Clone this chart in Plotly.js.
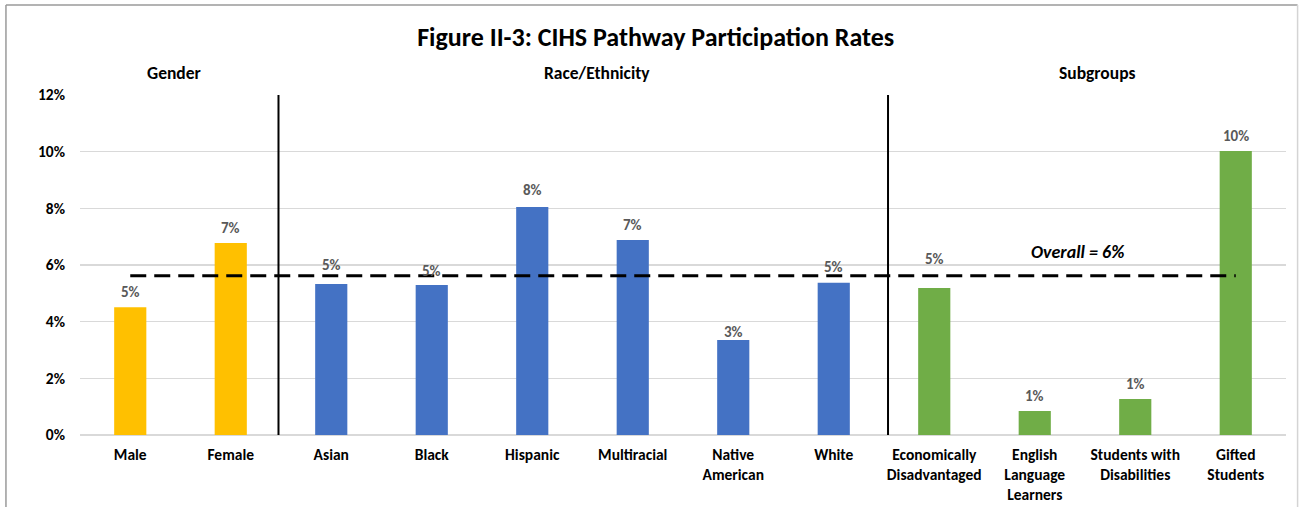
<!DOCTYPE html>
<html>
<head>
<meta charset="utf-8">
<script src="https://cdn.plot.ly/plotly-3.0.1.min.js"></script>
<style>html,body{margin:0;padding:0;background:#fff;}#chart{width:1301px;height:507px;}</style>
</head>
<body>
<div id="chart"></div>
<script>
const categories = ["Male","Female","Asian","Black","Hispanic","Multiracial","Native<br>American","White","Economically<br>Disadvantaged","English<br>Language<br>Learners","Students with<br>Disabilities","Gifted<br>Students"];
const rates = [0.0451,0.0678,0.0533,0.0529,0.0805,0.0688,0.0335,0.0537,0.0519,0.0085,0.0127,0.1002];
const groups = ["Gender","Gender","Race","Race","Race","Race","Race","Race","Sub","Sub","Sub","Sub"];
const groupColors = {Gender:"#FFC000", Race:"#4472C4", Sub:"#70AD47"};
const overallRate = 0.0562;
const overallLabel = "Overall = 6%";
const groupHeaders = ["Gender","Race/Ethnicity","Subgroups"];
const yTicks = [0,0.02,0.04,0.06,0.08,0.10,0.12];

// label placement above bars in px (style only)
const labelOffsets = [15,15,19,14,17,15,8,16,29,15,15,15];

const FONT = "Carlito, Calibri, Lato, 'Open Sans', sans-serif";
const idx = categories.map((c,i)=>i);

const trace = {
  type: "bar",
  x: idx,
  y: rates,
  width: 0.32,
  marker: {color: groups.map(g=>groupColors[g])},
  hoverinfo: "skip"
};

const hdrX = [0.44, 4.64, 9.62];
const annotations = groupHeaders.map((h,i)=>({
  text: "<b>"+h+"</b>", x: hdrX[i], xref: "x", y: 1.065, yref: "paper",
  showarrow: false, font: {family: FONT, size: 17.5, color: "#000"}, xanchor: "center", yanchor: "middle"
}));
annotations.push({
  text: "<b><i>"+overallLabel+"</i></b>", x: 9.43, xref: "x", y: 0.0646, yref: "y",
  showarrow: false, font: {family: FONT, size: 18, color: "#000"}, xanchor: "center", yanchor: "middle"
});
rates.forEach((v,i)=>{
  annotations.push({
    text: "<b>"+Math.round(v*100)+"%</b>", x: i, xref: "x", y: v, yref: "y",
    yshift: labelOffsets[i], showarrow: false, xanchor: "center", yanchor: "middle",
    font: {family: FONT, size: 15, color: "#595959"}
  });
});

const shapes = [
  {type:"line", xref:"x", yref:"y", x0:0, x1:11, y0:overallRate, y1:overallRate,
   line:{color:"#000", width:3, dash:"16px,8px"}},
  {type:"line", xref:"x", yref:"y", x0:1.475, x1:1.475, y0:0, y1:0.121, line:{color:"#000", width:2}},
  {type:"line", xref:"x", yref:"y", x0:7.54, x1:7.54, y0:0, y1:0.121, line:{color:"#000", width:2}},
  {type:"line", xref:"paper", yref:"paper", x0:-0.0614, x1:1.0096, y0:1.265, y1:1.265, line:{color:"#9a9a9a", width:1.5}},
  {type:"line", xref:"paper", yref:"paper", x0:-0.0614, x1:-0.0614, y0:1.265, y1:-0.3, line:{color:"#9a9a9a", width:1.5}},
  {type:"line", xref:"paper", yref:"paper", x0:1.0096, x1:1.0096, y0:1.265, y1:-0.3, line:{color:"#d4d4d4", width:1.5}}
];

const layout = {
  width: 1301, height: 507,
  margin: {l:80, r:15, t:95, b:72},
  paper_bgcolor: "#fff", plot_bgcolor: "#fff",
  showlegend: false,
  title: {text: "<b>Figure II-3: CIHS Pathway Participation Rates</b>", x: 0.504, xref: "container",
          y: 1 - 37/507, yref: "container", yanchor: "middle",
          font: {family: FONT, size: 26, color: "#000"}},
  xaxis: {
    tickmode: "array", tickvals: idx, ticktext: categories.map(c=>"<b>"+c+"</b>"),
    range: [-0.5, 11.5], showgrid: false, zeroline: false, showline: false, ticks: "",
    tickangle: 0, ticklabelstandoff: 8,
    tickfont: {family: FONT, size: 15.5, color: "#000"}
  },
  yaxis: {
    range: [0, 0.12], tickvals: yTicks, tickformat: ".0%", showgrid: true, gridcolor: "#d9d9d9", gridwidth: 1.5,
    zeroline: true, zerolinecolor: "#d9d9d9", zerolinewidth: 1.5, showline: false, ticks: "",
    ticklabelstandoff: 14,
    tickfont: {family: FONT, size: 15.5, color: "#000", weight: "bold"}
  },
  annotations: annotations,
  shapes: shapes
};

Plotly.newPlot("chart", [trace], layout, {displayModeBar: false, staticPlot: true});
</script>
</body>
</html>
